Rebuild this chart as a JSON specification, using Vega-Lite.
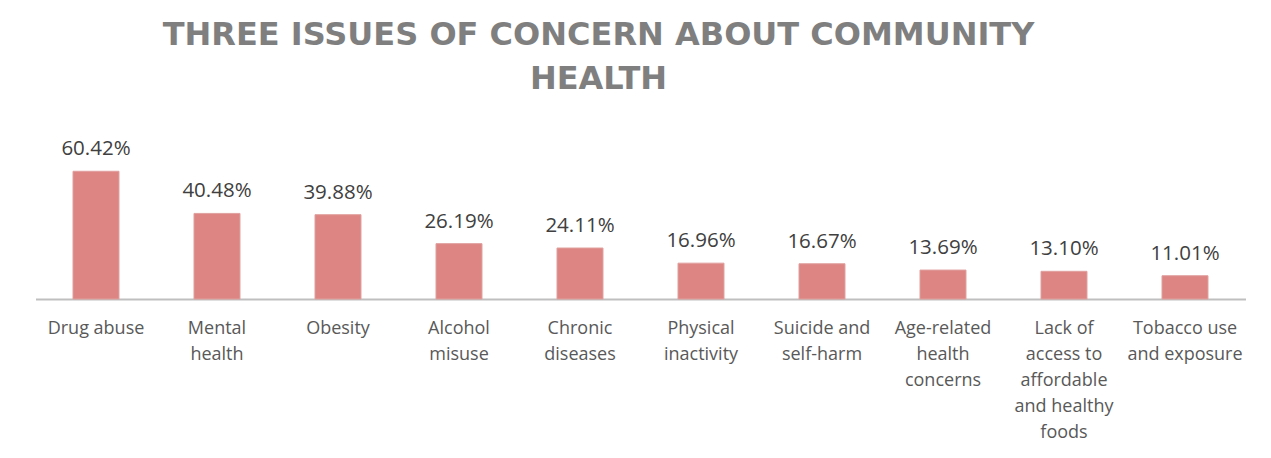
{
  "$schema": "https://vega.github.io/schema/vega-lite/v6.json",
  "width": 1210,
  "height": 148,
  "autosize": "none",
  "padding": {"left": 35.5, "top": 151, "right": 25.5, "bottom": 159},
  "background": "white",
  "title": {
    "text": ["THREE ISSUES OF CONCERN ABOUT COMMUNITY", "HEALTH"],
    "font": "DejaVu Sans",
    "fontSize": 32,
    "fontWeight": "bold",
    "color": "#7f7f7f",
    "lineHeight": 44,
    "anchor": "middle",
    "dx": -42,
    "offset": 43
  },
  "config": {"view": {"stroke": null}},
  "data": {
    "values": [
      {"issue": "Drug abuse", "share": 0.6042},
      {"issue": "Mental health", "share": 0.4048},
      {"issue": "Obesity", "share": 0.3988},
      {"issue": "Alcohol misuse", "share": 0.2619},
      {"issue": "Chronic diseases", "share": 0.2411},
      {"issue": "Physical inactivity", "share": 0.1696},
      {"issue": "Suicide and self-harm", "share": 0.1667},
      {"issue": "Age-related health concerns", "share": 0.1369},
      {"issue": "Lack of access to affordable and healthy foods", "share": 0.131},
      {"issue": "Tobacco use and exposure", "share": 0.1101}
    ]
  },
  "encoding": {
    "x": {
      "field": "issue",
      "type": "nominal",
      "sort": null,
      "scale": {"paddingInner": 0.62, "paddingOuter": 0.31},
      "axis": {
        "title": null,
        "labelAngle": 0,
        "ticks": false,
        "domainColor": "#bfbfbf",
        "domainWidth": 2,
        "labelFont": "Open Sans",
        "labelFontSize": 18,
        "labelColor": "#595959",
        "labelPadding": 20,
        "labelLineHeight": 26,
        "labelBaseline": "top",
        "labelLimit": 0,
        "labelExpr": "({'Drug abuse': ['Drug abuse'], 'Mental health': ['Mental', 'health'], 'Obesity': ['Obesity'], 'Alcohol misuse': ['Alcohol', 'misuse'], 'Chronic diseases': ['Chronic', 'diseases'], 'Physical inactivity': ['Physical', 'inactivity'], 'Suicide and self-harm': ['Suicide and', 'self-harm'], 'Age-related health concerns': ['Age-related', 'health', 'concerns'], 'Lack of access to affordable and healthy foods': ['Lack of', 'access to', 'affordable', 'and healthy', 'foods'], 'Tobacco use and exposure': ['Tobacco use', 'and exposure']})[datum.value]"
      }
    },
    "y": {
      "field": "share",
      "type": "quantitative",
      "scale": {"domain": [0, 0.7]},
      "axis": null
    }
  },
  "layer": [
    {
      "mark": {"type": "bar", "fill": "#dc8583", "stroke": "#e0a09e", "strokeWidth": 1}
    },
    {
      "mark": {
        "type": "text",
        "baseline": "bottom",
        "dy": -12,
        "font": "Open Sans",
        "fontSize": 20.5,
        "fill": "#404040"
      },
      "encoding": {"text": {"field": "share", "type": "quantitative", "format": ".2%"}}
    }
  ]
}
